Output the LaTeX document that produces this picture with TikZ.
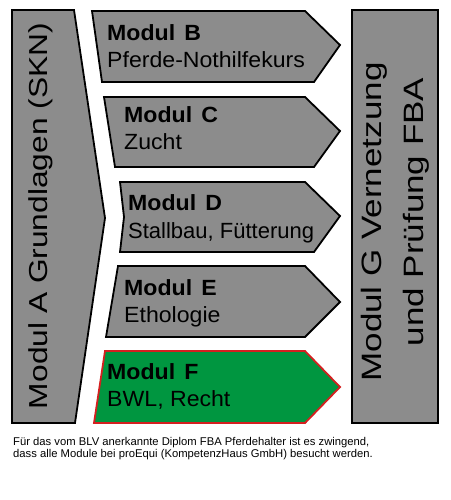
\documentclass[tikz,border=0pt]{standalone}
\usepackage{fontspec}
\setmainfont{Liberation Sans}
\usepackage{graphicx}
\definecolor{boxgray}{RGB}{140,140,140}
\definecolor{fgreen}{RGB}{0,150,64}
\definecolor{fred}{RGB}{212,32,32}
\tikzset{
  modshape/.style={draw=black, line width=1.8pt, fill=boxgray, line join=miter},
  fshape/.style={draw=fred, line width=1.8pt, fill=fgreen, line join=miter},
  modtitle/.style={anchor=base west, inner sep=0pt, font=\fontsize{22}{26}\selectfont\bfseries},
  modsub/.style={anchor=base west, inner sep=0pt, font=\fontsize{22}{26}\selectfont},
  vtext/.style={rotate=90, anchor=base, inner sep=0pt},
  captext/.style={anchor=base west, inner sep=0pt, font=\fontsize{11.25}{13.5}\selectfont}
}
\newcommand{\hs}[1]{\scalebox{1.05}[1]{#1}}
\begin{document}
\begin{tikzpicture}[x=1pt,y=1pt]
\useasboundingbox (0,0) rectangle (450,-500);
% Modul A
\draw[modshape] (12,-10) -- (74,-10) -- (105,-218) -- (75,-423) -- (12,-423) -- cycle;
% Modul B
\draw[modshape] (92,-11) -- (305,-11) -- (340,-45) -- (314,-82) -- (102,-82) -- cycle;
% Modul C
\draw[modshape] (104,-97) -- (305,-97) -- (340,-131) -- (314,-167) -- (115,-167) -- cycle;
% Modul D
\draw[modshape] (120,-182) -- (305,-182) -- (340,-216) -- (314,-252) -- (120,-252) -- (124,-217) -- cycle;
% Modul E
\draw[modshape] (118,-266) -- (305,-266) -- (340,-302) -- (305,-337) -- (106,-337) -- cycle;
% Modul F
\draw[fshape] (105,-351) -- (305,-351) -- (340,-387) -- (305,-423) -- (94,-423) -- cycle;
% Modul G
\draw[modshape] (352,-10) rectangle (438,-423);

% texts
\node[vtext] (ta) at (47,-216) {\fontsize{26}{30}\selectfont\scalebox{1.22}[1]{Modul A Grundlagen (SKN)}};

\node[modtitle] (tb1) at (107,-41) {\hs{Modul\hspace{.4em}B}};
\node[modsub]   (tb2) at (107,-68) {\hs{Pferde-Nothilfekurs}};
\node[modtitle] (tc1) at (124,-122) {\hs{Modul\hspace{.4em}C}};
\node[modsub]   (tc2) at (124,-149) {\hs{Zucht}};
\node[modtitle] (td1) at (128,-210) {\hs{Modul\hspace{.4em}D}};
\node[modsub]   (td2) at (128,-238) {Stallbau, Fütterung};
\node[modtitle] (te1) at (124,-295) {\hs{Modul\hspace{.4em}E}};
\node[modsub]   (te2) at (124,-322) {\hs{Ethologie}};
\node[modtitle] (tf1) at (107,-379) {\hs{Modul\hspace{.4em}F}};
\node[modsub]   (tf2) at (107,-406) {\hs{BWL, Recht}};

\node[vtext] (tg1) at (381,-222) {\fontsize{28}{32}\selectfont\scalebox{1.25}[1]{Modul G Vernetzung}};
\node[vtext] (tg2) at (423,-212) {\fontsize{28}{32}\selectfont\scalebox{1.25}[1]{und Prüfung FBA}};

\node[captext] (cap1) at (13,-445.5) {Für das vom BLV anerkannte Diplom FBA Pferdehalter ist es zwingend,};
\node[captext] (cap2) at (13,-457.5) {dass alle Module bei proEqui (KompetenzHaus GmbH) besucht werden.};
\end{tikzpicture}
\end{document}
